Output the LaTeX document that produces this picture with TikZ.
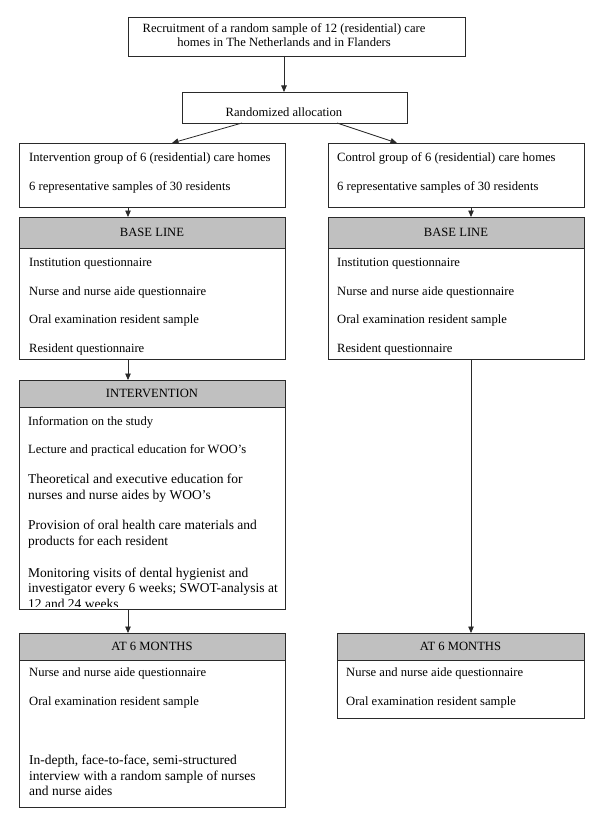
\documentclass[tikz,border=0pt]{standalone}
\usepackage{fontspec}
\setmainfont{Liberation Serif}
\usetikzlibrary{arrows.meta}
\definecolor{hgrey}{HTML}{C0C0C0}
\definecolor{lnc}{HTML}{2A2A2A}
\newcommand\txtS{\fontsize{12.6}{14.4}\selectfont}
\newcommand\txtL{\fontsize{13.5}{15.5}\selectfont}
\newcommand\mlines[1]{\begin{tabular}[t]{@{}l@{}}#1\end{tabular}}
\newcommand\clines[1]{\begin{tabular}[t]{@{}c@{}}#1\end{tabular}}
\begin{document}
\begin{tikzpicture}[x=1pt,y=-1pt,
  box/.style={draw=lnc, line width=0.8pt, rectangle, inner sep=0pt, outer sep=0pt},
  hdr/.style={box, fill=hgrey, font=\txtS},
  item/.style={inner sep=0pt, anchor=base west, font=\txtS},
  bigitem/.style={inner sep=0pt, anchor=base west, font=\txtL},
  arr/.style={draw=lnc, line width=0.8pt, -{Triangle[length=6.5pt,width=5.5pt]}},
  link/.style={draw=lnc, line width=0.8pt}
]
\useasboundingbox (0,0) rectangle (600,821);
\fill[white] (0,0) rectangle (600,821);

% guide coordinates for connector columns
\coordinate (cx) at (284,0);
\coordinate (cl) at (128,0);
\coordinate (cr) at (471,0);

% top box
\node[box, minimum width=337pt, minimum height=39pt] (top) at (296.5,36.5) {};
\node[inner sep=0pt, anchor=base, font=\txtS] (toptxt) at (284,32.3)
  {\clines{Recruitment of a random sample of 12 (residential) care\\homes in The Netherlands and in Flanders}};

% randomized allocation
\node[box, minimum width=225pt, minimum height=31pt] (rand) at (294.5,107.5) {};
\node[inner sep=0pt, anchor=base, font=\txtS] (randtxt) at (284,117) {Randomized allocation};

% group boxes
\node[box, minimum width=266pt, minimum height=64pt] (lg) at (152,175) {};
\node[item] (lg1) at (29,161) {Intervention group of 6 (residential) care homes};
\node[item] (lg2) at (29,190) {6 representative samples of 30 residents};

\node[box, minimum width=256pt, minimum height=64pt] (rg) at (456,175) {};
\node[item] (rg1) at (337,161) {Control group of 6 (residential) care homes};
\node[item] (rg2) at (337,190) {6 representative samples of 30 residents};

% baseline boxes
\node[box, minimum width=266pt, minimum height=142pt] (lb) at (152,288) {};
\node[hdr, minimum width=266pt, minimum height=31pt] (lbh) at (152,232.5) {BASE LINE};
\node[item] (lb1) at (29,266) {Institution questionnaire};
\node[item] (lb2) at (29,295) {Nurse and nurse aide questionnaire};
\node[item] (lb3) at (29,323) {Oral examination resident sample};
\node[item] (lb4) at (29,352) {Resident questionnaire};

\node[box, minimum width=256pt, minimum height=142pt] (rb) at (456,288) {};
\node[hdr, minimum width=256pt, minimum height=31pt] (rbh) at (456,232.5) {BASE LINE};
\node[item] (rb1) at (337,266) {Institution questionnaire};
\node[item] (rb2) at (337,295) {Nurse and nurse aide questionnaire};
\node[item] (rb3) at (337,323) {Oral examination resident sample};
\node[item] (rb4) at (337,352) {Resident questionnaire};

% intervention box
\node[box, minimum width=266pt, minimum height=229pt] (li) at (152,494.5) {};
\node[hdr, minimum width=266pt, minimum height=27pt] (lih) at (152,393.5) {INTERVENTION};
\begin{scope}
\clip (li.north west) rectangle ([yshift=2.5pt]li.south east);
\node[item] (li1) at (28,425) {Information on the study};
\node[item] (li2) at (28,453) {Lecture and practical education for WOO’s};
\node[bigitem] (li3) at (28,483.5) {\mlines{Theoretical and executive education for\\nurses and nurse aides by WOO’s}};
\node[bigitem] (li4) at (28,529.5) {\mlines{Provision of oral health care materials and\\products for each resident}};
\node[bigitem] (li5) at (28,577) {\mlines{Monitoring visits of dental hygienist and\\investigator every 6 weeks; SWOT-analysis at\\12 and 24 weeks}};
\end{scope}

% at 6 months, left
\node[box, minimum width=266pt, minimum height=174pt] (l6) at (152,720) {};
\node[hdr, minimum width=266pt, minimum height=27pt] (l6h) at (152,646.5) {AT 6 MONTHS};
\node[item] (l61) at (29,676) {Nurse and nurse aide questionnaire};
\node[item] (l62) at (29,705) {Oral examination resident sample};
\node[bigitem] (l63) at (29,764.5) {\mlines{In-depth, face-to-face, semi-structured\\interview with a random sample of nurses\\and nurse aides}};

% at 6 months, right
\node[box, minimum width=247pt, minimum height=85pt] (r6) at (460.5,675.5) {};
\node[hdr, minimum width=247pt, minimum height=27pt] (r6h) at (460.5,646.5) {AT 6 MONTHS};
\node[item] (r61) at (346,676) {Nurse and nurse aide questionnaire};
\node[item] (r62) at (346,705) {Oral examination resident sample};

% connectors
\draw[arr] (top.south -| cx) -- (rand.north -| cx);
\draw[arr] ([xshift=-52.5pt]rand.south) -- ([xshift=20pt]lg.north);
\draw[arr] ([xshift=42.5pt]rand.south) -- ([xshift=-59pt]rg.north);
\draw[arr] (lg.south -| cl) -- (lbh.north -| cl);
\draw[arr] (rg.south -| cr) -- (rbh.north -| cr);
\draw[arr] (lb.south -| cl) -- (lih.north -| cl);
\draw[arr] (li.south -| cl) -- (l6h.north -| cl);
\draw[arr] (rb.south -| cr) -- (r6h.north -| cr);
\end{tikzpicture}
\end{document}
